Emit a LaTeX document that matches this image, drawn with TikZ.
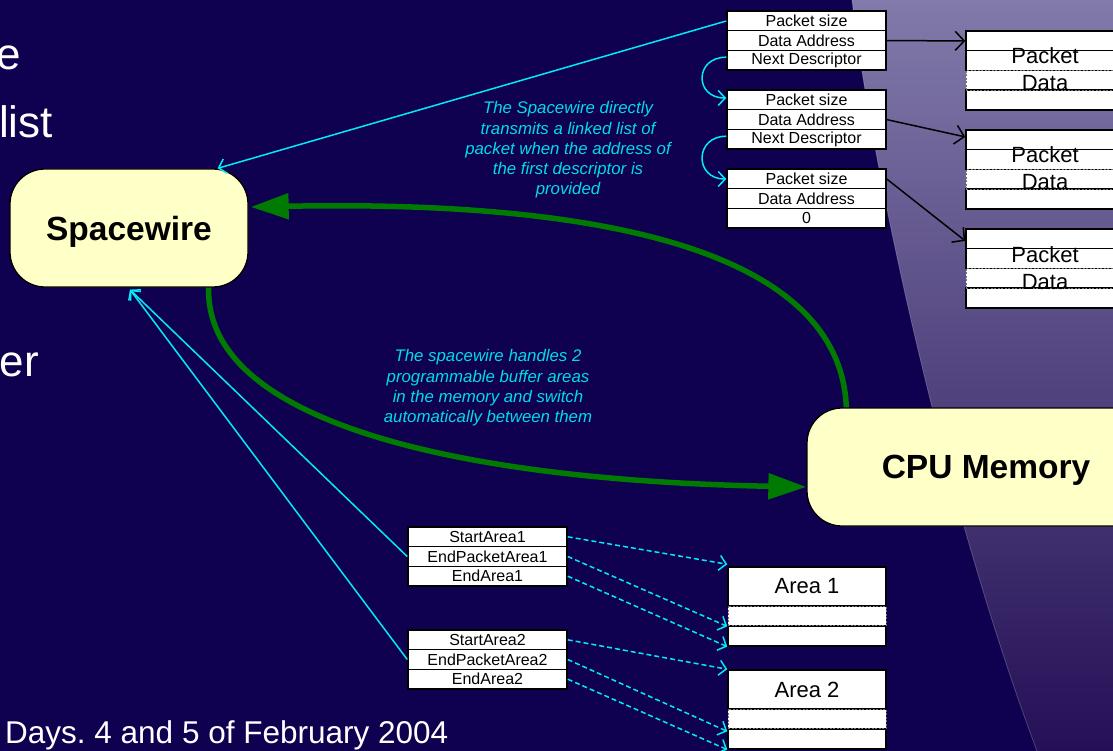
\documentclass[tikz,border=0pt]{standalone}
\usepackage{fontspec}
\setmainfont{Liberation Sans}
\usetikzlibrary{arrows.meta,calc}
\frenchspacing

\definecolor{navy}{RGB}{16,0,80}
\definecolor{skytop}{RGB}{130,122,170}
\definecolor{skymid}{RGB}{84,72,138}
\definecolor{skybot}{RGB}{36,16,86}
\definecolor{termfill}{RGB}{255,255,200}
\definecolor{linkcyan}{RGB}{0,235,245}
\definecolor{notecyan}{RGB}{0,220,232}
\definecolor{flowgreen}{RGB}{0,122,0}

\begin{document}
\begin{tikzpicture}[x=1pt,y=-1pt,
  cell/.style={draw=black,line width=1.5pt,fill=white,minimum width=159pt,
    minimum height=19.7pt,inner sep=0pt,font=\fontsize{16}{18}\selectfont,text=black},
  pcell/.style={draw=black,line width=1.5pt,fill=white,minimum width=158pt,
    minimum height=19.75pt,inner sep=0pt},
  pdash/.style={pcell,draw=black!55,line width=0.8pt,dash pattern=on 2pt off 1.5pt},
  bigtxt/.style={font=\fontsize{22}{27}\selectfont,text=black,inner sep=0pt},
  terminal/.style={draw=black,line width=1.3pt,fill=termfill,rounded corners=35pt,
    minimum height=118pt,inner sep=0pt,text depth=0pt,
    font=\fontsize{33.5}{40}\selectfont\bfseries,text=black},
  note/.style={text=notecyan,align=center,font=\fontsize{16.8}{20.3}\selectfont\itshape},
  slidetxt/.style={text=white,inner sep=0pt},
  cyanarrow/.style={draw=linkcyan,line width=1.5pt,-{Straight Barb[length=7pt,width=15pt]}},
  dasharrow/.style={cyanarrow,line width=1.5pt,dash pattern=on 5pt off 3pt},
  blackarrow/.style={draw=black,line width=1.5pt,-{Straight Barb[length=9pt,width=19pt]}},
  greenarrow/.style={draw=flowgreen,line width=5.5pt,-{Triangle[length=38pt,width=25pt]}}
]
\useasboundingbox (0,0) rectangle (1113,751);
\clip (0,0) rectangle (1113,751);

% slide background with the lighter curved panel on the right
\fill[navy] (0,0) rectangle (1113,751);
\shade[top color=skytop,middle color=skymid,bottom color=skybot]
  (852,0) .. controls (875,190) and (950,520) .. (1037,751) -- (1113,751) -- (1113,0) -- cycle;
\draw[white,opacity=0.22,line width=0.8pt]
  (852,0) .. controls (875,190) and (950,520) .. (1037,751);

% slide text fragments and footer
\node[slidetxt,anchor=base east,font=\fontsize{44}{50}\selectfont] (t1) at (21,70) {e};
\node[slidetxt,anchor=base east,font=\fontsize{44}{50}\selectfont] (t2) at (53,138) {list};
\node[slidetxt,anchor=base east,font=\fontsize{44}{50}\selectfont] (t3) at (39,376) {er};
\node[slidetxt,anchor=base west,font=\fontsize{31.5}{36}\selectfont] (foot) at (5,743)
  {Days. 4 and 5 of February 2004};

% main blocks
\node[terminal,minimum width=238pt] (sw) at (129,228) {Spacewire};
\node[terminal,minimum width=358pt] (cpu) at (986,467) {CPU Memory};

% descriptor chain
\node[cell] (ps1) at (806.5,21.0) {Packet size};
\node[cell] (da1) at (806.5,40.6) {Data Address};
\node[cell] (nd1) at (806.5,60.2) {Next Descriptor};
\node[cell] (ps2) at (806.5,100.0) {Packet size};
\node[cell] (da2) at (806.5,119.6) {Data Address};
\node[cell] (nd2) at (806.5,139.2) {Next Descriptor};
\node[cell] (ps3) at (806.5,179.0) {Packet size};
\node[cell] (da3) at (806.5,198.6) {Data Address};
\node[cell] (nd3) at (806.5,218.2) {0};

% packet data buffers
\foreach \n/\t in {1/31,2/130,3/229}{
  \node[pdash] (pk\n c) at (1045,\t+49.4) {};
  \node[pcell] (pk\n a) at (1045,\t+9.9) {};
  \node[pcell] (pk\n b) at (1045,\t+29.6) {};
  \node[pcell] (pk\n d) at (1045,\t+69.1) {};
  \node[pdash,fill=none] at (pk\n c) {};
  \node[bigtxt,anchor=base] (pk\n t) at (1045,\t+33) {Packet};
  \node[bigtxt,anchor=base] (pk\n u) at (1045,\t+60) {Data};
}

% buffer area registers
\node[cell] (sa1)  at (487.5,536.8) {StartArea1};
\node[cell] (epa1) at (487.5,556.5) {EndPacketArea1};
\node[cell] (ea1)  at (487.5,576.2) {EndArea1};
\node[cell] (sa2)  at (487.5,639.8) {StartArea2};
\node[cell] (epa2) at (487.5,659.5) {EndPacketArea2};
\node[cell] (ea2)  at (487.5,679.2) {EndArea2};

% buffer areas in memory
\foreach \n/\t in {1/567,2/670}{
  \node[pdash] (ar\n b) at (807,\t+49) {};
  \node[pcell,minimum height=39pt,bigtxt,draw=black,line width=1.5pt,fill=white,
    minimum width=158pt] (ar\n a) at (807,\t+19.5) {Area \n};
  \node[pcell] (ar\n c) at (807,\t+69) {};
  \node[pdash,fill=none] at (ar\n b) {};
}

% notes
\node[note] (n1) at (568,150) {The Spacewire directly\\transmits a linked list of\\packet when the address of\\the first descriptor is\\provided};
\node[note] (n2) at (488,388) {The spacewire handles 2\\programmable buffer areas\\in the memory and switch\\automatically between them};

% data flow between Spacewire and memory
\draw[greenarrow] ($(cpu.north west)+(40,0)$) .. controls (840,250) and (600,200) .. ($(sw.east)+(2,-21)$);
\draw[greenarrow] ($(sw.south east)+(-40,0)$) .. controls (205,420) and (450,480) .. ($(cpu.west)+(0,20)$);

% descriptor links
\draw[cyanarrow] (ps1.west) -- ($(sw.north east)+(-31,0)$);
\draw[cyanarrow] ($(nd1.west)+(0,-3)$) .. controls +(-32,0) and +(-32,0) .. ($(ps2.west)+(0,-2)$);
\draw[cyanarrow] ($(nd2.west)+(0,-3)$) .. controls +(-32,0) and +(-32,0) .. (ps3.west);
\draw[blackarrow] (da1.east) -- (pk1a.west);
\draw[blackarrow] (da2.east) -- ($(pk2a.west)+(0,-3)$);
\draw[blackarrow] (ps3.east) -- ($(pk3a.west)+(0,2)$);

% register links
\draw[cyanarrow] (epa1.west) -- ($(sw.south)+(1,2)$);
\draw[cyanarrow] (epa2.west) -- ($(sw.south)+(1,2)$);
\draw[dasharrow] (sa1.east)  -- ($(ar1a.north west)+(0,-2)$);
\draw[dasharrow] (epa1.east) -- ($(ar1c.north west)+(0,1)$);
\draw[dasharrow] (ea1.east)  -- (ar1c.south west);
\draw[dasharrow] (sa2.east)  -- (ar2a.north west);
\draw[dasharrow] (epa2.east) -- ($(ar2c.north west)+(0,3)$);
\draw[dasharrow] (ea2.east)  -- (ar2c.south west);
\end{tikzpicture}
\end{document}
